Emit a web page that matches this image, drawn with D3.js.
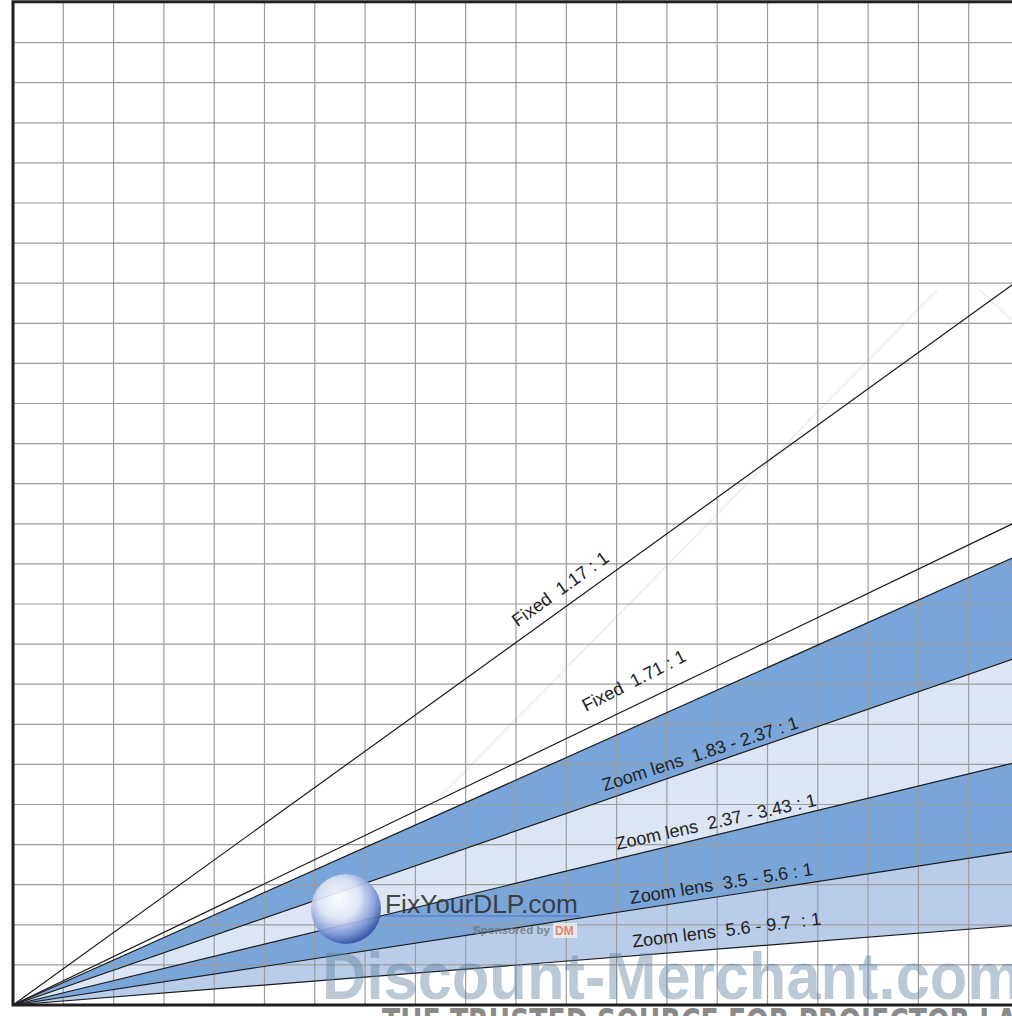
<!DOCTYPE html>
<html>
<head>
<meta charset="utf-8">
<script src="https://cdnjs.cloudflare.com/ajax/libs/d3/7.8.5/d3.min.js"></script>
<style>
  html, body { margin: 0; padding: 0; background: #fff; }
  svg { display: block; }
  text { white-space: pre; }
</style>
</head>
<body>
<div id="chart"></div>
<script>
// Throw ratio lines from the origin. Values = grid row reached at grid column 20
const lineRatios = ["1.17", "1.71", "1.83", "2.37", "3.43", "5.6", "9.7"];
const lineEndRows = [18.08, 12.08, 11.22, 8.68, 6.07, 3.85, 1.99];

// Filled bands, each one between two of the lines above
const bandNames = ["1.83 - 2.37", "2.37 - 3.43", "3.5 - 5.6", "5.6 - 9.7"];
const bandUpper = ["1.83", "2.37", "3.43", "5.6"];
const bandLower = ["2.37", "3.43", "5.6", "9.7"];

// Label texts
const labelTexts = [
    "Fixed  1.17 : 1",
    "Fixed  1.71 : 1",
    "Zoom lens  1.83 - 2.37 : 1",
    "Zoom lens  2.37 - 3.43 : 1",
    "Zoom lens  3.5 - 5.6 : 1",
    "Zoom lens  5.6 - 9.7  : 1"
];

// Grid size (columns x rows)
const gridCols = 20;
const gridRows = 25;

// ---- layout / styles ----
const width = 1012, height = 1016;
const plot = {left: 13, top: 2.5, right: 13 + 20 * 50.3, bottom: 1005};
const bandColors = ["#79a5d8", "#dbe5f3", "#79a5d8", "#b9cdea"];
// label placement in grid units: [col, row, angle]
const labelPlace = [
    [10.95, 10.25, 35.8],
    [12.4, 7.95, 27],
    [13.7, 6.12, 18],
    [14.0, 4.42, 12.5],
    [14.1, 2.88, 9],
    [14.2, 1.72, 7]
];

const svg = d3.select("#chart").append("svg")
    .attr("width", width)
    .attr("height", height);

svg.append("rect").attr("width", width).attr("height", height).attr("fill", "#fff");

const x = d3.scaleLinear().domain([0, gridCols]).range([plot.left, plot.right]);
const y = d3.scaleLinear().domain([0, gridRows]).range([plot.bottom, plot.top]);

const endRow = r => lineEndRows[lineRatios.indexOf(r)];

// faint ghost diagonals seen in the scan
svg.append("g").selectAll("line")
    .data([[8.49, 5.19, 18.37, 17.83], [19.22, 17.83, 19.86, 17.08]])
    .enter().append("line")
    .attr("x1", d => x(d[0])).attr("y1", d => y(d[1]))
    .attr("x2", d => x(d[2])).attr("y2", d => y(d[3]))
    .attr("stroke", "#f1f1f1")
    .attr("stroke-width", 2.5);

// Bands
const area = d3.line().x(d => x(d[0])).y(d => y(d[1]));
svg.append("g").selectAll("path")
    .data(bandNames)
    .enter().append("path")
    .attr("d", (d, i) => area([[0, 0], [gridCols, endRow(bandUpper[i])], [gridCols, endRow(bandLower[i])]]) + "Z")
    .attr("fill", (d, i) => bandColors[i]);

// Grid
const grid = svg.append("g").attr("stroke", "#9c9c9c").attr("stroke-width", 1.2);
grid.selectAll(".v").data(d3.range(1, gridCols + 1)).enter().append("line")
    .attr("x1", d => x(d)).attr("x2", d => x(d))
    .attr("y1", y(0)).attr("y2", y(gridRows));
grid.selectAll(".h").data(d3.range(1, gridRows)).enter().append("line")
    .attr("x1", x(0)).attr("x2", x(gridCols))
    .attr("y1", d => y(d)).attr("y2", d => y(d));

// Ratio lines
svg.append("g").selectAll("line")
    .data(lineRatios)
    .enter().append("line")
    .attr("x1", x(0)).attr("y1", y(0))
    .attr("x2", x(gridCols)).attr("y2", (d, i) => y(lineEndRows[i]))
    .attr("stroke", "#1a1a1a")
    .attr("stroke-width", 1.2);

// Frame
svg.append("rect")
    .attr("x", x(0)).attr("y", y(gridRows) - 0.7)
    .attr("width", x(gridCols) - x(0)).attr("height", y(0) - y(gridRows) + 0.7)
    .attr("fill", "none")
    .attr("stroke", "#231f20")
    .attr("stroke-width", 3);

// Labels
svg.append("g").selectAll("text")
    .data(labelTexts)
    .enter().append("text")
    .attr("transform", (d, i) => `translate(${x(labelPlace[i][0])},${y(labelPlace[i][1])}) rotate(${-labelPlace[i][2]})`)
    .attr("text-anchor", "middle")
    .style("font-family", "'Liberation Sans', Arial, sans-serif")
    .style("font-size", "18px")
    .attr("fill", "#1e1e1e")
    .text(d => d);

// ---- watermarks ----
const defs = svg.append("defs");
const grad = defs.append("radialGradient").attr("id", "globe")
    .attr("cx", "40%").attr("cy", "35%").attr("r", "65%");
grad.append("stop").attr("offset", "0%").attr("stop-color", "#ffffff");
grad.append("stop").attr("offset", "45%").attr("stop-color", "#dfe6f6");
grad.append("stop").attr("offset", "80%").attr("stop-color", "#7f97d6");
grad.append("stop").attr("offset", "100%").attr("stop-color", "#3553a8");

const wm = svg.append("g");
wm.append("text")
    .attr("x", 322).attr("y", 999)
    .attr("textLength", 700).attr("lengthAdjust", "spacingAndGlyphs")
    .style("font-family", "'Liberation Sans', Arial, sans-serif")
    .style("font-weight", "bold")
    .style("font-size", "66px")
    .attr("fill", "#5a7f9c").attr("fill-opacity", 0.42)
    .text("Discount-Merchant.com");

wm.append("text")
    .attr("x", 382).attr("y", 1034)
    .attr("textLength", 700).attr("lengthAdjust", "spacingAndGlyphs")
    .style("font-family", "'DejaVu Sans', sans-serif")
    .style("font-weight", "bold")
    .style("font-size", "36px")
    .attr("fill", "#8a8a8a")
    .text("THE TRUSTED SOURCE FOR PROJECTOR LAMPS");

wm.append("circle")
    .attr("cx", 346).attr("cy", 909).attr("r", 35)
    .attr("fill", "url(#globe)")
    .attr("fill-opacity", 0.9);

wm.append("text")
    .attr("x", 385).attr("y", 913)
    .attr("textLength", 193).attr("lengthAdjust", "spacingAndGlyphs")
    .style("font-family", "'Liberation Sans', Arial, sans-serif")
    .style("font-size", "25px")
    .attr("fill", "#303030").attr("fill-opacity", 0.9)
    .text("FixYourDLP.com");

wm.append("line")
    .attr("x1", 385).attr("x2", 580).attr("y1", 916).attr("y2", 916)
    .attr("stroke", "#5b7fd0").attr("stroke-width", 2).attr("stroke-opacity", 0.7);

wm.append("text")
    .attr("x", 473).attr("y", 934)
    .attr("textLength", 77).attr("lengthAdjust", "spacingAndGlyphs")
    .style("font-family", "'Liberation Sans', Arial, sans-serif")
    .style("font-size", "11px")
    .style("font-weight", "bold")
    .attr("fill", "#6f6f6f").attr("fill-opacity", 0.8)
    .text("Sponsored by");

wm.append("rect")
    .attr("x", 553).attr("y", 923).attr("width", 24).attr("height", 15)
    .attr("fill", "#f2f2f2").attr("fill-opacity", 0.8);
wm.append("text")
    .attr("x", 555).attr("y", 935)
    .style("font-family", "'Liberation Sans', Arial, sans-serif")
    .style("font-size", "12px")
    .style("font-weight", "bold")
    .attr("fill", "#e8846a")
    .text("DM");
</script>
</body>
</html>
